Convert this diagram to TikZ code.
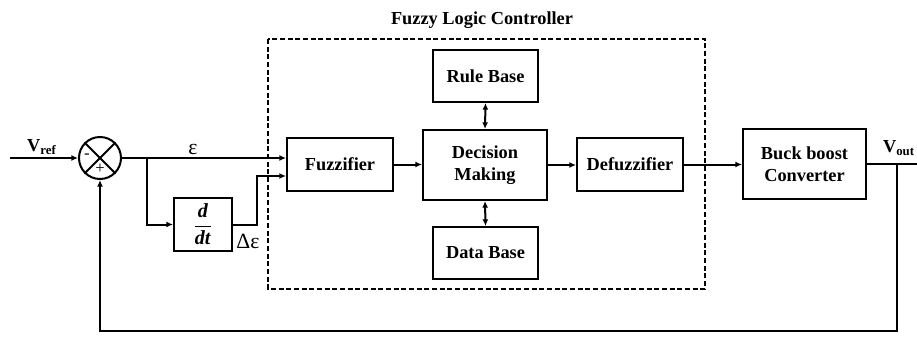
\documentclass[tikz,border=0pt]{standalone}
\usepackage{amsmath}
\usepackage{fontspec}
\setmainfont{Liberation Serif}
\usetikzlibrary{arrows.meta}

\begin{document}
\begin{tikzpicture}[x=0.6pt, y=-0.6pt, line width=1.2pt,
      >={Latex[length=4pt,width=3.6pt]},
      every node/.append style={font=\fontsize{11}{13}\selectfont\bfseries}]
    \tikzstyle{block} = [draw, rectangle, align=center, inner sep=0pt,
                         minimum width=63.6pt, minimum height=31.8pt]
    \tikzstyle{bigblock} = [block, minimum width=74.4pt, minimum height=42pt]
    \tikzstyle{sign} = [font=\fontsize{10}{10}\selectfont, inner sep=0pt]
    \useasboundingbox (0,0) rectangle (917,336);

    % controller boundary
    \draw[dash pattern=on 3pt off 1.6pt, line width=1pt] (268,39) rectangle (705,289);
    \node (flc) at (482,20) {Fuzzy Logic Controller};

    % blocks
    \node[circle, draw, minimum size=25.2pt, inner sep=0pt] (sum) at (100,158) {};
    \draw (sum.north west) -- (sum.south east);
    \draw (sum.north east) -- (sum.south west);
    \node[sign] (minus) at (87,156) {-};
    \node[sign] (plus) at (100,169) {+};
    \node[block, minimum width=34.8pt] (ddt) at (203,224.5)
      {\fontsize{12}{14}\selectfont$\dfrac{\textbf{\textit{d}}}{\textbf{\textit{dt}}}$};
    \node[block] (fuzz) at (340,164.5) {Fuzzifier};
    \node[bigblock] (dec) at (485,165) {Decision\\Making};
    \node[block, minimum width=63pt, minimum height=31.2pt] (rule) at (485.5,76) {Rule Base};
    \node[block, minimum width=63pt, minimum height=31.2pt] (data) at (485.5,253) {Data Base};
    \node[block] (defuzz) at (630,164.5) {Defuzzifier};
    \node[bigblock, minimum width=73.8pt] (buck) at (804.5,164) {Buck boost\\Converter};

    % labels
    \node (vref) at (42,147) {V$_{\textbf{ref}}$};
    \node (vout) at (899,148) {V$_{\textbf{out}}$};
    \node[font=\fontsize{13}{15}\selectfont] (err) at (193,149) {ε};
    \node[font=\fontsize{13}{15}\selectfont] (derr) at (248,241) {Δε};

    \coordinate (vin) at (10,158);
    \coordinate (br) at (147,158);
    \coordinate (kink) at (257,176);
    \coordinate (fb) at (897,164);
    \coordinate (fbc) at (897,331);
    \coordinate (vend) at (917,164);

    % signal paths
    \draw[->] (vin) -- (sum.west);
    \draw[->] (sum.east) -- (sum.east -| fuzz.west);
    \draw[->] (br) |- (ddt.west);
    \draw[->] (ddt.east) -| (kink) -- (kink -| fuzz.west);
    \draw[->] (fuzz.east) -- (fuzz.east -| dec.west);
    \draw[->] (dec.east) -- (dec.east -| defuzz.west);
    \draw[<->] (dec.north) -- (rule.south);
    \draw[<->] (dec.south) -- (data.north);
    \draw[->] (defuzz.east) -- (defuzz.east -| buck.west);
    \draw (buck.east) -- (vend);
    \draw[->] (fb) -- (fbc) -| (sum.south);
\end{tikzpicture}
\end{document}
